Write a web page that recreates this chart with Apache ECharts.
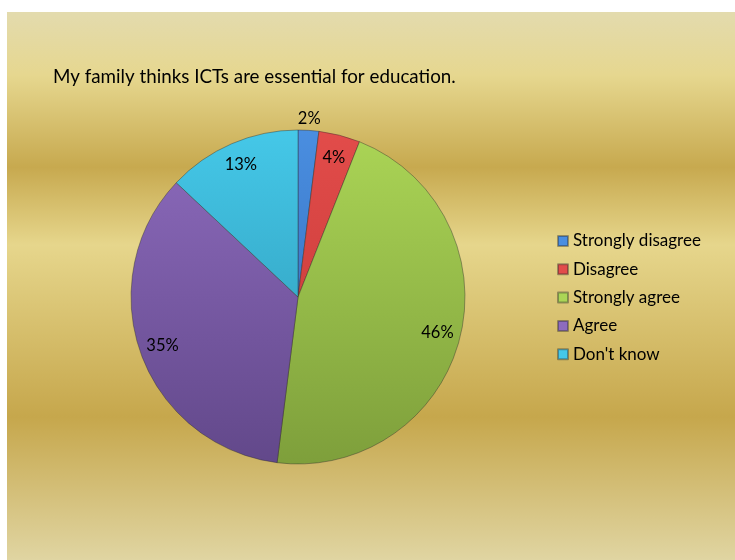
<!DOCTYPE html>
<html>
<head>
<meta charset="utf-8">
<title>My family thinks ICTs are essential for education.</title>
<script src="https://cdn.jsdelivr.net/npm/echarts@6/dist/echarts.min.js"></script>
<style>
  html, body { margin: 0; padding: 0; background: #ffffff; }
  #chart { position: absolute; left: 7px; top: 12px; width: 728px; height: 548px; }
</style>
</head>
<body>
<div id="chart"></div>
<script>
// Survey answers, percent of respondents
const categories = ['Strongly disagree', 'Disagree', 'Strongly agree', 'Agree', "Don't know"];
const shares = [2, 4, 46, 35, 13];
const titleText = 'My family thinks ICTs are essential for education.';

// Slice shading: lighter at the top of the pie, darker at the bottom
const sliceTop = ['#4a8ee0', '#e24c4a', '#abd556', '#8d6bbd', '#45c8e8'];
const sliceBottom = ['#2e66b2', '#c03634', '#7e9f3b', '#62488a', '#2a92b0'];

const FONT = 'Lato, "Open Sans", sans-serif';
const cx = 291, cy = 285, R = 167;

function shade(i) {
  return new echarts.graphic.LinearGradient(0, cy - R, 0, cy + R, [
    { offset: 0, color: sliceTop[i] },
    { offset: 1, color: sliceBottom[i] }
  ], true);
}

const chart = echarts.init(document.getElementById('chart'), null, { renderer: 'canvas' });

const pieData = categories.map((name, i) => ({
  name: name,
  value: shares[i],
  itemStyle: { color: shade(i) }
}));

// Label rings (transparent) so the percentages sit near the rim
const innerLabels = categories.map((name, i) => ({
  name: name, value: shares[i], label: { show: i !== 0 }
}));
const outerLabels = categories.map((name, i) => ({
  name: name, value: shares[i], label: { show: i === 0 }
}));

const labelRing = (radius, data) => ({
  type: 'pie',
  silent: true,
  center: [cx, cy],
  radius: radius,
  startAngle: 90,
  clockwise: true,
  data: data,
  itemStyle: { color: 'rgba(0,0,0,0)', borderWidth: 0 },
  label: {
    position: 'inside',
    formatter: '{c}%',
    color: '#000000',
    fontFamily: FONT,
    fontSize: 16.5
  },
  labelLine: { show: false },
  emphasis: { disabled: true },
  z: 5
});

chart.setOption({
  animation: false,
  backgroundColor: new echarts.graphic.LinearGradient(0, 0, 0, 1, [
    { offset: 0.000, color: '#e3dbae' },
    { offset: 0.115, color: '#e6d78f' },
    { offset: 0.283, color: '#c7a94f' },
    { offset: 0.425, color: '#e6d68c' },
    { offset: 0.739, color: '#c6a74c' },
    { offset: 1.000, color: '#e0d5a2' }
  ]),
  title: {
    text: titleText,
    left: 46,
    top: 55,
    padding: 0,
    textStyle: { fontFamily: FONT, fontSize: 18.8, fontWeight: 'normal', color: '#000000' }
  },
  legend: {
    orient: 'vertical',
    left: 550,
    top: 220,
    padding: 0,
    itemWidth: 10,
    itemHeight: 10,
    itemGap: 10.3,
    icon: 'rect',
    data: categories,
    textStyle: { fontFamily: FONT, fontSize: 17, color: '#000000', lineHeight: 18 },
    selectedMode: false
  },
  series: [
    {
      type: 'pie',
      center: [cx, cy],
      radius: R,
      startAngle: 90,
      clockwise: true,
      data: pieData,
      itemStyle: { borderColor: 'rgba(40,40,40,0.4)', borderWidth: 1 },
      label: { show: false },
      labelLine: { show: false },
      emphasis: { disabled: true },
      z: 2
    },
    labelRing([121, 161], innerLabels),
    labelRing([168, 184], outerLabels)
  ]
});
</script>
</body>
</html>
